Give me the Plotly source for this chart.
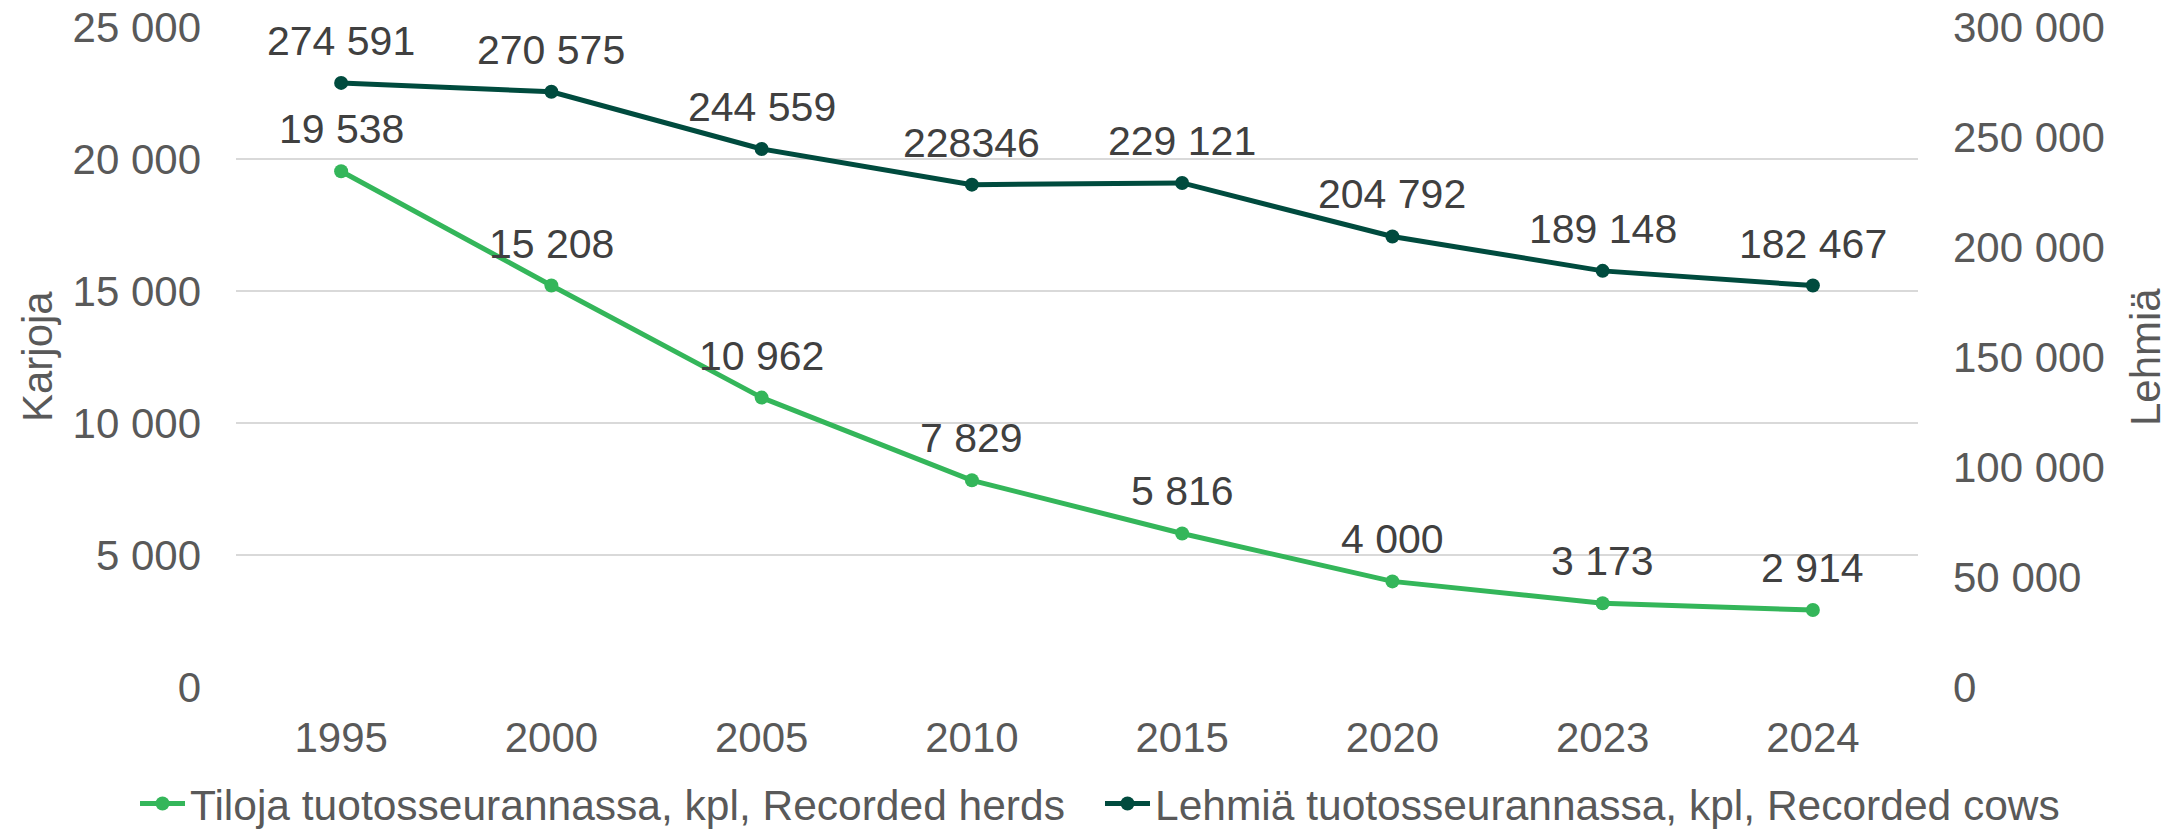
import plotly.graph_objects as go

years = ["1995", "2000", "2005", "2010", "2015", "2020", "2023", "2024"]
herds = [19538, 15208, 10962, 7829, 5816, 4000, 3173, 2914]
cows = [274591, 270575, 244559, 228346, 229121, 204792, 189148, 182467]
herd_labels = ["19 538", "15 208", "10 962", "7 829", "5 816", "4 000", "3 173", "2 914"]
cow_labels = ["274 591", "270 575", "244 559", "228346", "229 121", "204 792", "189 148", "182 467"]

GREEN = "#34B65A"
DARK = "#004B3E"
FONT = "Liberation Sans, Arial, sans-serif"
TICK = "#595959"
LABEL = "#404040"

fig = go.Figure()
fig.add_trace(go.Scatter(
    x=years, y=herds, name="Tiloja tuotosseurannassa, kpl, Recorded herds",
    mode="lines+markers",
    line=dict(color=GREEN, width=5), marker=dict(size=14, color=GREEN),
    yaxis="y", cliponaxis=False,
))
fig.add_trace(go.Scatter(
    x=years, y=cows, name="Lehmiä tuotosseurannassa, kpl, Recorded cows",
    mode="lines+markers",
    line=dict(color=DARK, width=5), marker=dict(size=14, color=DARK),
    yaxis="y2", cliponaxis=False,
))

annotations = []
# on a category axis, annotation x is the category index
for i, (y, t) in enumerate(zip(herds, herd_labels)):
    annotations.append(dict(x=i, y=y, xref="x", yref="y", text=t, showarrow=False,
                            yshift=42, xanchor="center", yanchor="middle",
                            font=dict(size=41, color=LABEL, family=FONT)))
for i, (y, t) in enumerate(zip(cows, cow_labels)):
    annotations.append(dict(x=i, y=y, xref="x", yref="y2", text=t, showarrow=False,
                            yshift=42, xanchor="center", yanchor="middle",
                            font=dict(size=41, color=LABEL, family=FONT)))
annotations += [
    dict(text="Karjoja", xref="paper", yref="paper", x=-0.1183, y=0.5,
         textangle=-90, showarrow=False, font=dict(size=42, color=TICK),
         xanchor="center", yanchor="middle"),
    dict(text="Lehmiä", xref="paper", yref="paper", x=1.1350, y=0.5,
         textangle=-90, showarrow=False, font=dict(size=42, color=TICK),
         xanchor="center", yanchor="middle"),
]

fig.update_layout(
    width=2175, height=822, autosize=False,
    margin=dict(l=228, r=265, t=19, b=143, autoexpand=False),
    paper_bgcolor="white", plot_bgcolor="white",
    separators=", ",
    font=dict(family=FONT, size=42, color=TICK),
    showlegend=True,
    legend=dict(orientation="h", x=1.0874, xanchor="right", y=-0.177, yanchor="middle",
                font=dict(size=42.5, color=TICK), tracegroupgap=0,
                itemwidth=45, entrywidth=905, bgcolor="rgba(0,0,0,0)"),
    xaxis=dict(type="category", range=[-0.5, len(years) - 0.5],
               showgrid=False, showline=False, zeroline=False, automargin=False,
               ticks="", ticklabelstandoff=22, tickfont=dict(size=42, color=TICK)),
    yaxis=dict(range=[0, 25000], dtick=5000, tickformat=",d", showgrid=True,
               automargin=False, ticklabeloverflow="allow",
               gridcolor="#D9D9D9", gridwidth=2, zeroline=False, showline=False,
               ticks="", ticklabelstandoff=34, tickfont=dict(size=42, color=TICK)),
    yaxis2=dict(range=[0, 300000], dtick=50000, tickformat=",d", overlaying="y",
                automargin=False, ticklabeloverflow="allow",
                side="right", showgrid=False, zeroline=False, showline=False,
                ticks="", ticklabelstandoff=34, tickfont=dict(size=42, color=TICK)),
    annotations=annotations,
)

fig.write_html("out.html")
